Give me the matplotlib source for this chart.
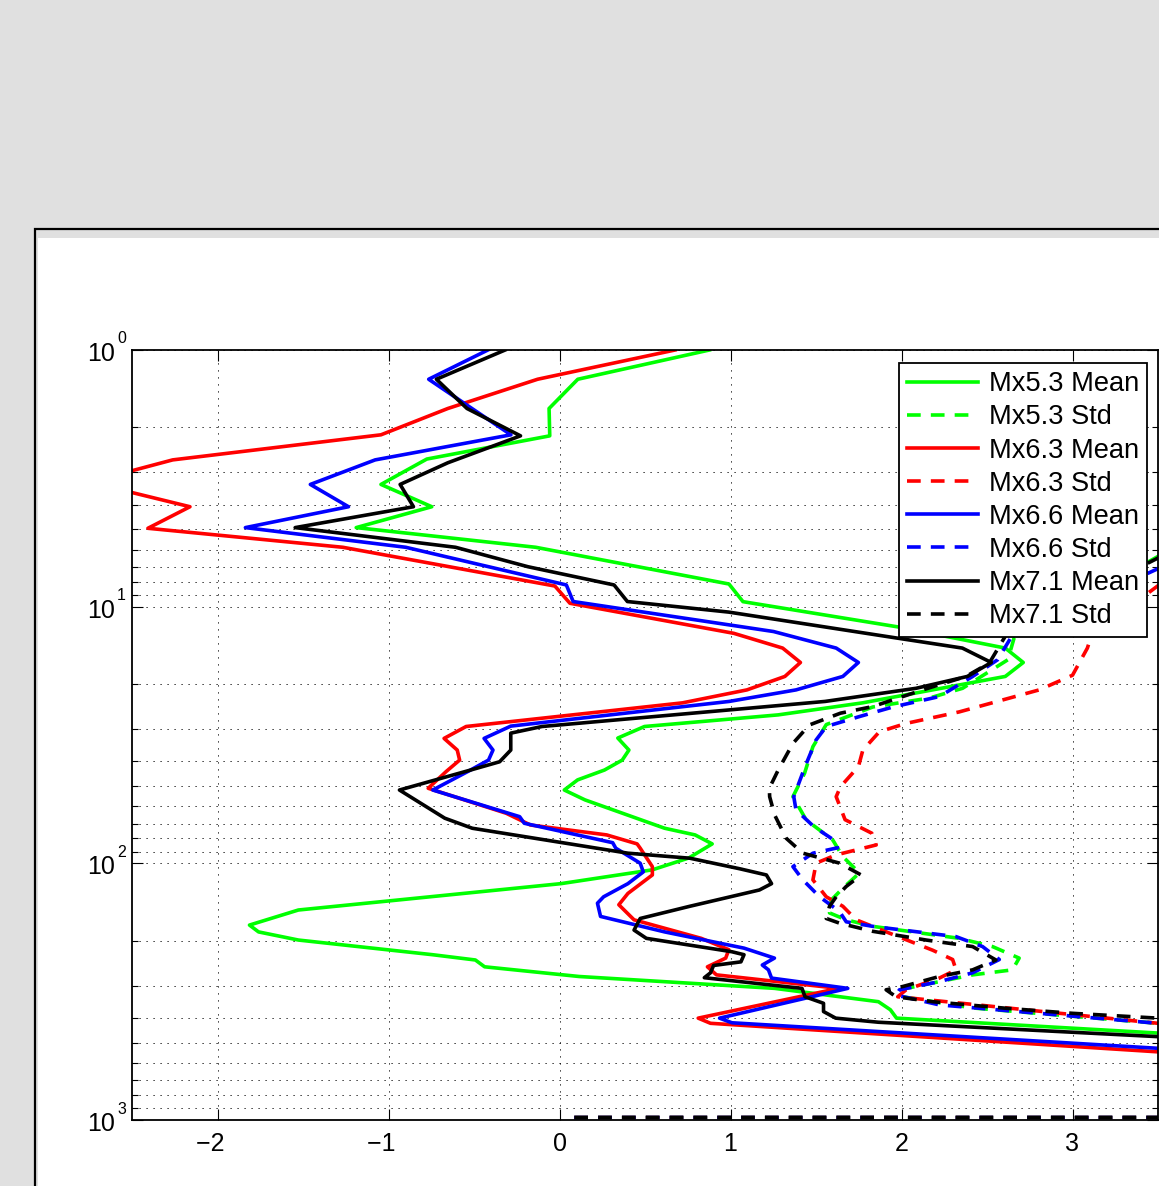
import matplotlib
matplotlib.use('Agg')
import matplotlib.pyplot as plt
from matplotlib.patches import Rectangle
from matplotlib.transforms import offset_copy
from matplotlib.ticker import NullLocator, LogLocator, NullFormatter, FuncFormatter

plt.rcParams['font.family'] = ['Liberation Sans', 'DejaVu Sans']

# --- data: value vs pressure level ---
mx53_mean_x = [0.877, 0.107, -0.061, -0.057, -0.776, -1.044, -0.747, -1.189, -0.139, 0.991, 1.073, 1.982,
               2.607, 2.712, 2.607, 1.772, 1.279, 0.497, 0.341, 0.406, 0.367, 0.263, 0.106, 0.028, 0.149,
               0.615, 0.793, 0.893, 0.756, 0.543, 0.008, -1.527, -1.813, -1.760, -1.527, -0.742, -0.492,
               -0.438, 0.115, 1.258, 1.865, 1.935, 1.971, 3.488, 5.0]
mx53_mean_p = [1, 1.30, 1.69, 2.16, 2.66, 3.34, 4.08, 4.92, 5.87, 8.16, 9.56, 12.0, 14.5, 16.5, 18.7, 23.7,
               26.4, 29.3, 32.5, 36.2, 39.6, 43.3, 47.3, 51.8, 56.6, 73.0, 77.5, 84.0, 95.3, 106, 120, 152,
               174, 185, 199, 227, 238, 253, 276, 307, 346, 372, 401, 458, 529]
mx53_std_x = [5.0, 3.535, 2.659, 2.622, 2.357, 2.163, 1.832, 1.560, 1.482, 1.433, 1.365, 1.443, 1.598, 1.657,
              1.754, 1.657, 1.589, 1.579, 1.677, 1.832, 2.338, 2.532, 2.688, 2.649, 2.416, 2.221, 1.988, 2.007,
              2.416, 3.5, 8.0, 8.0, 0.03]
mx53_std_p = [1, 6.18, 13.2, 16.1, 20.8, 22.7, 24.6, 28.8, 35.1, 44.6, 55.0, 67.8, 81.1, 94.2, 109, 125, 139,
              156, 166, 176, 196, 211, 234, 260, 272, 289, 311, 331, 366, 420, 580, 978, 978]

mx63_mean_x = [0.676, -0.128, -0.653, -1.044, -2.262, -2.750, -2.161, -2.407, -1.267, -0.027, 0.061, 1.019,
               1.305, 1.409, 1.318, 1.096, 0.719, -0.546, -0.675, -0.598, -0.584, -0.663, -0.768, -0.312,
               -0.170, 0.276, 0.454, 0.472, 0.543, 0.543, 0.400, 0.347, 0.436, 0.829, 0.990, 0.972, 0.865,
               0.918, 1.632, 0.811, 0.883, 3.488, 5.0]
mx63_mean_p = [1, 1.30, 1.69, 2.14, 2.68, 3.27, 4.08, 4.95, 5.87, 8.31, 9.70, 12.7, 14.5, 16.5, 18.7, 21.1,
               23.7, 29.3, 32.6, 36.2, 39.6, 43.9, 51.0, 63.8, 70.9, 77.5, 84.0, 87.3, 103, 111, 131, 145, 166,
               196, 217, 234, 253, 272, 307, 401, 420, 542, 611]
mx63_std_x = [5.0, 3.535, 3.112, 3.087, 3.0, 2.805, 2.338, 2.027, 1.871, 1.774, 1.748, 1.643, 1.618, 1.670,
              1.826, 1.852, 1.618, 1.501, 1.482, 1.560, 1.657, 1.735, 1.929, 2.182, 2.299, 2.319, 2.221, 2.027,
              1.978, 3.5, 8.0, 8.0, 0.03]
mx63_std_p = [1, 7.96, 12.9, 14.5, 18.5, 21.1, 25.7, 28.5, 30.7, 36.2, 42.0, 50.3, 55.0, 67.6, 76.3, 84.8,
              92.7, 99.8, 116, 135, 147, 166, 187, 218, 237, 260, 280, 311, 331, 420, 580, 978, 978]

mx66_mean_x = [-0.419, -0.765, -0.541, -0.284, -1.078, -1.457, -1.234, -1.837, -0.899, 0.040, 0.080, 1.252,
               1.618, 1.748, 1.657, 1.383, 0.992, -0.285, -0.441, -0.389, -0.415, -0.520, -0.741, -0.233,
               -0.206, 0.311, 0.329, 0.472, 0.490, 0.400, 0.258, 0.222, 0.240, 0.615, 1.079, 1.257, 1.186,
               1.222, 1.240, 1.686, 0.936, 1.008, 3.488, 5.0]
mx66_mean_p = [1, 1.30, 1.64, 2.14, 2.68, 3.34, 4.08, 4.92, 5.87, 8.23, 9.55, 12.5, 14.5, 16.5, 18.7, 21.1,
               23.4, 29.2, 32.6, 36.2, 39.6, 43.3, 51.8, 65.8, 69.8, 83.1, 87.3, 99.9, 108, 120, 135, 143, 161,
               185, 214, 234, 249, 260, 280, 307, 401, 418, 525, 600]
mx66_std_x = [5.0, 3.535, 2.649, 2.562, 2.416, 2.221, 1.949, 1.754, 1.560, 1.500, 1.436, 1.370, 1.383, 1.487,
              1.618, 1.626, 1.482, 1.365, 1.423, 1.521, 1.637, 1.677, 1.832, 2.319, 2.474, 2.572, 2.416, 2.221,
              1.988, 1.968, 2.221, 2.805, 3.5, 8.0, 8.0, 0.03]
mx66_std_p = [1, 6.94, 12.9, 16.1, 18.7, 22.4, 24.6, 26.8, 29.3, 33.1, 42.0, 55.0, 61.9, 71.9, 82.3, 87.0,
              91.3, 103, 116, 135, 154, 169, 176, 193, 211, 237, 267, 289, 311, 326, 356, 384, 420, 580, 978, 978]

mx71_mean_x = [-0.318, -0.720, -0.541, -0.228, -0.653, -0.932, -0.854, -1.546, -0.608, -0.184, 0.319, 0.397,
               0.990, 1.988, 2.356, 2.525, 2.385, 2.085, 1.553, -0.102, -0.285, -0.285, -0.350, -0.520, -0.936,
               -0.671, -0.510, 0.400, 0.762, 1.054, 1.210, 1.240, 1.169, 0.762, 0.472, 0.436, 0.508, 1.008,
               1.079, 1.061, 0.901, 0.883, 0.847, 1.418, 1.436, 1.544, 1.544, 1.615, 1.865, 3.488, 5.0]
mx71_mean_p = [1, 1.30, 1.69, 2.16, 2.75, 3.34, 4.08, 4.92, 5.87, 6.99, 8.23, 9.55, 10.5, 13.3, 14.5, 16.5,
               18.7, 20.8, 23.4, 29.3, 31.1, 36.2, 40.2, 43.3, 51.8, 66.7, 73.0, 91.3, 95.5, 105, 111, 120, 127,
               147, 164, 182, 196, 221, 227, 242, 250, 267, 279, 307, 331, 351, 378, 401, 416, 473, 538]
mx71_std_x = [5.0, 3.535, 2.611, 2.513, 2.377, 2.124, 1.832, 1.643, 1.461, 1.365, 1.279, 1.227, 1.229, 1.258,
              1.326, 1.423, 1.531, 1.637, 1.764, 1.677, 1.618, 1.579, 1.560, 1.637, 1.832, 2.144, 2.416, 2.552,
              2.416, 2.221, 2.007, 1.910, 1.968, 2.182, 2.611, 3.0, 3.5, 8.0, 8.0, 0.03]
mx71_std_p = [1, 6.29, 12.9, 16.6, 18.7, 21.1, 24.5, 26.0, 28.9, 34.1, 43.3, 51.0, 55.0, 64.8, 79.9, 91.3,
              95.5, 99.8, 111, 123, 135, 147, 164, 171, 184, 199, 211, 238, 260, 276, 302, 311, 331, 346, 367,
              384, 401, 580, 978, 978]

names = ['Mx5.3', 'Mx6.3', 'Mx6.6', 'Mx7.1']
colors = ['#00ff00', '#ff0000', '#0000ff', '#000000']
series = [(mx53_mean_x, mx53_mean_p, mx53_std_x, mx53_std_p),
          (mx63_mean_x, mx63_mean_p, mx63_std_x, mx63_std_p),
          (mx66_mean_x, mx66_mean_p, mx66_std_x, mx66_std_p),
          (mx71_mean_x, mx71_mean_p, mx71_std_x, mx71_std_p)]
x_ticks = [-2, -1, 0, 1, 2, 3]

W, H = 1159, 1186
fig = plt.figure(figsize=(W / 100, H / 100), dpi=100)
fig.patch.set_facecolor('#e0e0e0')

# matlab-like panel behind the axes
fig.patches.append(Rectangle((35 / W, -0.1), 1.2, (H - 229) / H + 0.1, transform=fig.transFigure,
                             facecolor='#e0e0e0', edgecolor='black', linewidth=1.6, zorder=-10))
fig.patches.append(Rectangle((38 / W, -0.1), 1.2, (H - 238) / H + 0.1, transform=fig.transFigure,
                             facecolor='white', edgecolor='none', zorder=-9))

ax = fig.add_axes([132 / W, (H - 1120) / H, 1026 / W, 770 / H])

for name, col, (mx, mp, sx, sp) in zip(names, colors, series):
    ax.plot(mx, mp, color=col, lw=2.6, label=name + ' Mean')
    ax.plot(sx, sp, color=col, lw=2.6, dashes=(3.8, 2.8), label=name + ' Std')

ax.set_yscale('log')
ax.set_ylim(1000, 1)
ax.set_xlim(-2.5, 3.5)
ax.set_xticks(x_ticks)
# matlab centres the digits, the minus sign hangs to the left
ax.xaxis.set_major_formatter(FuncFormatter(
    lambda v, pos: '\u2212%d\u2007' % -v if v < 0 else '%d' % v))
ax.xaxis.set_minor_locator(NullLocator())
ax.yaxis.set_major_locator(LogLocator(base=10, numticks=10))
ax.yaxis.set_minor_locator(LogLocator(base=10, subs=range(2, 10), numticks=20))
ax.yaxis.set_major_formatter(NullFormatter())
ax.yaxis.set_minor_formatter(NullFormatter())

ax.tick_params(which='both', direction='in', top=True, right=True, width=0.8, color='black')
ax.tick_params(which='major', length=8)
ax.tick_params(which='minor', length=4)
ax.tick_params(axis='x', labelsize=18, pad=8.5)
for s in ax.spines.values():
    s.set_linewidth(1.3)

grid_style = dict(color='black', linestyle=(0, (1.2, 6)), linewidth=0.7)
ax.grid(True, which='major', axis='both', **grid_style)
ax.grid(True, which='minor', axis='y', **grid_style)

# y tick labels drawn like matlab: 10 with small exponent
ytrans = ax.get_yaxis_transform()
base_tr = offset_copy(ytrans, fig=fig, x=-17, y=-11, units='dots')
sup_tr = offset_copy(ytrans, fig=fig, x=-15, y=6.5, units='dots')
for k in range(4):
    ax.text(0, 10 ** k, '10', transform=base_tr, ha='right', va='baseline', fontsize=18)
    ax.text(0, 10 ** k, str(k), transform=sup_tr, ha='left', va='baseline', fontsize=11.5)

leg = ax.legend(loc='upper right', bbox_to_anchor=(0.9893, 0.983), borderaxespad=0, fontsize=19.6,
                fancybox=False, framealpha=1, edgecolor='black', handlelength=2.6, handletextpad=0.4,
                borderpad=0.3, labelspacing=0.262)
leg.get_frame().set_linewidth(1.3)

fig.savefig('out.png', dpi=100, facecolor=fig.get_facecolor())
